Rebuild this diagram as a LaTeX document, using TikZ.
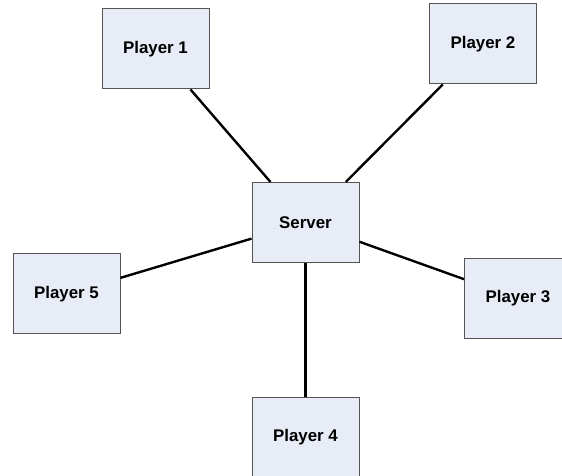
\documentclass[tikz,border=0pt]{standalone}
\usepackage{fontspec}
\setmainfont{Liberation Sans}
\usepackage{tikz}

\definecolor{boxfill}{HTML}{E8ECF7}
\definecolor{boxline}{HTML}{555555}

\begin{document}
\begin{tikzpicture}[
    box/.style={draw=boxline, line width=0.7pt, fill=boxfill, minimum width=2.675cm,
      minimum height=2cm, inner sep=0pt, font=\fontsize{12}{14}\selectfont\bfseries},
    link/.style={line width=1.7pt, black}]
  % Picture frame, cut at the edges like the original
  \clip (0,0) rectangle (14.05,11.9);

  % Server in the middle
  \node[box] (server) at (7.6375, 6.3375) {Server};

  % Players around it
  \node[box] (p1) at (3.8875, 10.675) {Player 1};
  \node[box] (p2) at (12.075, 10.8) {Player 2};
  \node[box] (p3) at (12.95, 4.4375) {Player 3};
  \node[box] (p4) at (7.6375, 0.97) {Player 4};
  \node[box] (p5) at (1.6625, 4.55) {Player 5};

  % Links to the server
  \draw[link] (p1) -- (server);
  \draw[link] (p2) -- (server);
  \draw[link] (p3) -- (server);
  \draw[link] (p4) -- (server);
  \draw[link] (p5) -- (server);
\end{tikzpicture}
\end{document}
